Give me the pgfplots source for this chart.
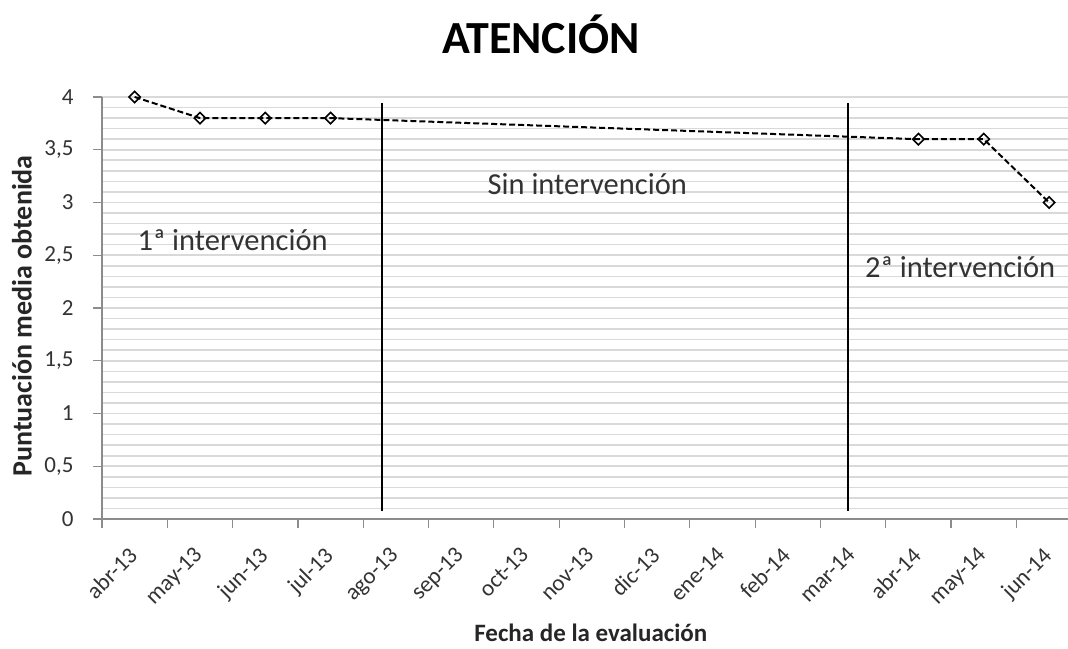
\documentclass[border=0pt]{standalone}
\usepackage{pgfplots}
\pgfplotsset{compat=1.18}
\usepackage{fontspec}
\setmainfont{Carlito}
\begin{document}
\begin{tikzpicture}
\useasboundingbox (0,0) rectangle (1068pt,648pt);
\begin{axis}[
  at={(102pt,129pt)}, anchor=south west,
  scale only axis, width=966pt, height=422pt,
  xmin=-0.5, xmax=14.29, ymin=0, ymax=4,
  axis lines=left,
  axis line style={-, draw=black!45, line width=1.2pt},
  x axis line style={-}, y axis line style={-},
  xtick={0,...,14},
  xticklabels={abr-13,may-13,jun-13,jul-13,ago-13,sep-13,oct-13,nov-13,dic-13,ene-14,feb-14,mar-14,abr-14,may-14,jun-14},
  major x tick style={draw=none},
  minor xtick={-0.5,0.5,...,13.5},
  minor x tick style={draw=black!45, line width=1.2pt},
  ytick={0,0.5,...,4},
  major y tick style={draw=black!45, line width=1.2pt},
  minor ytick={0,0.1,...,4},
  minor y tick style={draw=none},
  ymajorgrids, yminorgrids,
  major grid style={draw=black!15, line width=1.6pt},
  minor grid style={draw=black!15, line width=1.6pt},
  tick align=outside,
  major tick length=9pt, minor tick length=9pt,
  /pgf/number format/use comma,
  /pgf/number format/assume math mode=true,
  ticklabel style={font=\fontsize{23}{27}\selectfont, text=black!80},
  yticklabel style={xshift=-16pt},
  xticklabel style={rotate=45, anchor=north east, xshift=-14.4pt, yshift=-3.9pt},
  title={ATENCIÓN},
  title style={font=\fontsize{46}{55}\selectfont\bfseries, at={(axis description cs:0.4545,1.135)}, anchor=center},
  xlabel={Fecha de la evaluación},
  xlabel style={font=\fontsize{25}{30}\selectfont\bfseries, text=black!85, at={(axis description cs:0.506,-0.27)}, anchor=center},
  ylabel={Puntuación media obtenida},
  ylabel style={font=\fontsize{28}{33}\selectfont\bfseries, text=black!85, at={(axis description cs:-0.0828,0.481)}, anchor=center, rotate=0},
  clip=false,
]
\addplot[black, line width=2pt, dash pattern=on 6pt off 3pt,
  mark=square, mark size=4pt,
  mark options={solid, rotate=45, fill=white, line width=1.6pt}]
  coordinates {(0,4.0) (1,3.8) (2,3.8) (3,3.8) (12,3.6) (13,3.6) (14,3.0)};
\addplot[black, line width=2pt] coordinates {(3.79,0.08) (3.79,3.94)};
\addplot[black, line width=2pt] coordinates {(10.92,0.08) (10.92,3.94)};
\node[font=\fontsize{30.5}{36}\selectfont, text=black!80] at (axis cs:1.5,2.64) {1ª intervención};
\node[font=\fontsize{30.5}{36}\selectfont, text=black!80] at (axis cs:6.93,3.17) {Sin intervención};
\node[font=\fontsize{30.5}{36}\selectfont, text=black!80] at (axis cs:12.64,2.39) {2ª intervención};
\end{axis}
\end{tikzpicture}
\end{document}
